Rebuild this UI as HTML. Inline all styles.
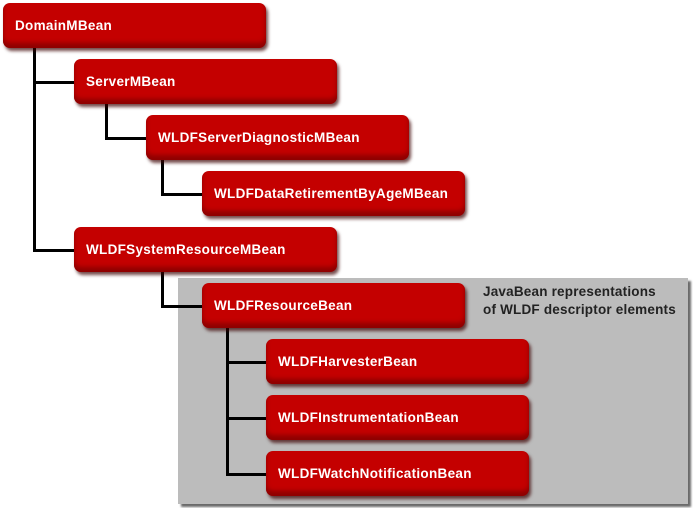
<!DOCTYPE html>
<html><head><style>
body{margin:0;width:693px;height:508px;background:#fff;position:relative;overflow:hidden;font-family:"Liberation Sans",Arial,sans-serif}
.g{position:absolute;left:178px;top:278px;width:510px;height:226px;background:#bcbcbc;box-shadow:3px 3px 2px #6a6a6a}
.b{position:absolute;width:263px;height:45px;background:#c40000;border-radius:7px;box-shadow:2px 3px 3px rgba(60,0,0,.7),inset 0 -5px 5px rgba(90,0,0,.5);color:#fff;font-weight:bold;font-size:13.5px;line-height:45px;padding-left:12px;box-sizing:border-box;letter-spacing:0.3px}
.h,.v{position:absolute;background:#000}
.v{width:3px}.h{height:3px}
.t{position:absolute;left:483px;top:283px;font-size:13.5px;font-weight:bold;color:#222;line-height:18px;letter-spacing:0.2px}
</style></head><body>
<div class="g"></div>
<div class="v" style="left:33px;top:48px;height:204px"></div>
<div class="h" style="left:33px;top:81px;width:41px"></div>
<div class="h" style="left:33px;top:249px;width:41px"></div>
<div class="v" style="left:105px;top:104px;height:36px"></div>
<div class="h" style="left:105px;top:137px;width:41px"></div>
<div class="v" style="left:161px;top:160px;height:36px"></div>
<div class="h" style="left:161px;top:193px;width:41px"></div>
<div class="v" style="left:161px;top:272px;height:36px"></div>
<div class="h" style="left:161px;top:305px;width:41px"></div>
<div class="v" style="left:226px;top:328px;height:148px"></div>
<div class="h" style="left:226px;top:361px;width:40px"></div>
<div class="h" style="left:226px;top:417px;width:40px"></div>
<div class="h" style="left:226px;top:473px;width:40px"></div>
<div class="b" style="left:3px;top:3px">DomainMBean</div>
<div class="b" style="left:74px;top:59px">ServerMBean</div>
<div class="b" style="left:146px;top:115px">WLDFServerDiagnosticMBean</div>
<div class="b" style="left:202px;top:171px">WLDFDataRetirementByAgeMBean</div>
<div class="b" style="left:74px;top:227px">WLDFSystemResourceMBean</div>
<div class="b" style="left:202px;top:283px">WLDFResourceBean</div>
<div class="b" style="left:266px;top:339px">WLDFHarvesterBean</div>
<div class="b" style="left:266px;top:395px">WLDFInstrumentationBean</div>
<div class="b" style="left:266px;top:451px">WLDFWatchNotificationBean</div>
<div class="t">JavaBean representations<br>of WLDF descriptor elements</div>
</body></html>
